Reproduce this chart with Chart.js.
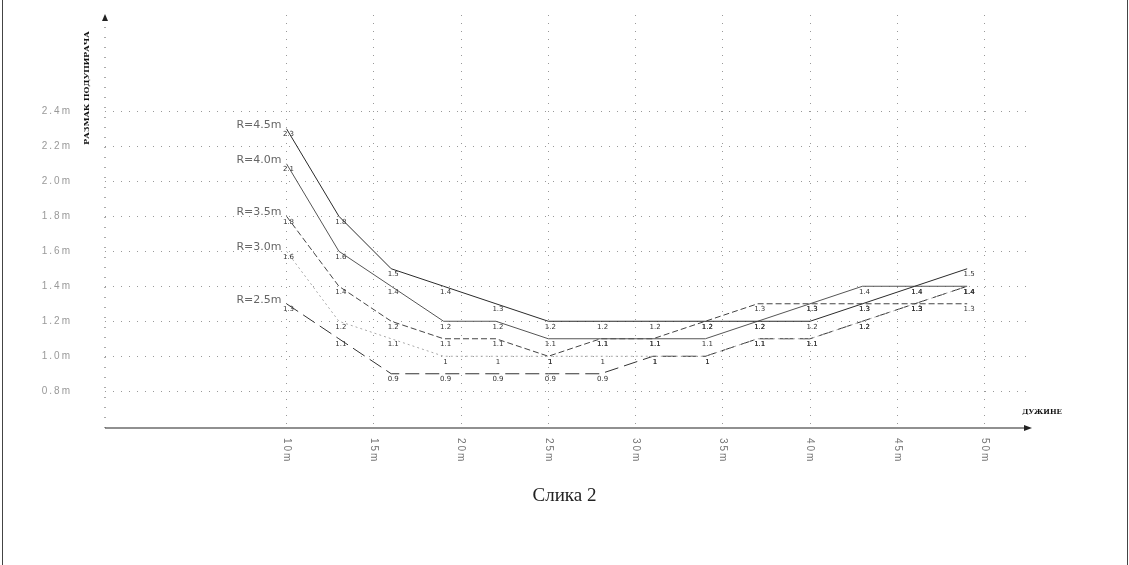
<!DOCTYPE html>
<html>
<head>
<meta charset="utf-8">
<title>Слика 2</title>
<script src="https://cdn.jsdelivr.net/npm/chart.js@4.4.1/dist/chart.umd.min.js"></script>
<style>
    html, body { margin: 0; padding: 0; background: #fff; }
    .page {
        position: relative;
        width: 1129px;
        height: 565px;
        overflow: hidden;
    }
    .page::before, .page::after {
        content: '';
        position: absolute;
        top: 0;
        bottom: 0;
        width: 1px;
        background: #444;
    }
    .page::before { left: 2px; }
    .page::after { right: 1px; }
    #chart { position: absolute; left: 0; top: 0; }
    .caption {
        position: absolute;
        left: 0;
        top: 484px;
        width: 1129px;
        text-align: center;
        font-family: "Liberation Serif", serif;
        font-size: 19px;
        color: #222;
    }
</style>
</head>
<body>
<div class="page">
    <canvas id="chart" width="1129" height="565"></canvas>
    <div class="caption">Слика 2</div>
</div>
<script>
'use strict';

// lengths along the x axis (m) and the values
const lengths = [10, 13, 16, 19, 22, 25, 28, 31, 34, 37, 40, 43, 46, 49];
const xTicks = [10, 15, 20, 25, 30, 35, 40, 45, 50];
const yTicks = [0.8, 1.0, 1.2, 1.4, 1.6, 1.8, 2.0, 2.2, 2.4];
const seriesNames = ['R=4.5m', 'R=4.0m', 'R=3.5m', 'R=3.0m', 'R=2.5m'];

const r45 = [2.3, 1.8, 1.5, 1.4, 1.3, 1.2, 1.2, 1.2, 1.2, 1.2, 1.2, 1.3, 1.4, 1.5];
const r40 = [2.1, 1.6, 1.4, 1.2, 1.2, 1.1, 1.1, 1.1, 1.1, 1.2, 1.3, 1.4, 1.4, 1.4];
const r35 = [1.8, 1.4, 1.2, 1.1, 1.1, 1.0, 1.1, 1.1, 1.2, 1.3, 1.3, 1.3, 1.3, 1.3];
const r30 = [1.6, 1.2, 1.1, 1.0, 1.0, 1.0, 1.0, 1.0, 1.0, 1.1, 1.1, 1.2, 1.3, 1.4];
const r25 = [1.3, 1.1, 0.9, 0.9, 0.9, 0.9, 0.9, 1.0, 1.0, 1.1, 1.1, 1.2, 1.3, 1.4];

const xTitle = 'ДУЖИНЕ';
const yTitle = 'РАЗМАК ПОДУПИРАЧА';

function pts(values) {
    return lengths.map((x, i) => ({ x: x, y: values[i] }));
}

function fmt(v) {
    return Number.isInteger(v) ? String(v) : v.toFixed(1);
}

// labels, axes with arrows, titles — all placed from the chart's scales
const decorations = {
    id: 'decorations',
    afterDatasetsDraw(chart) {
        const ctx = chart.ctx;
        const area = chart.chartArea;
        const xs = chart.scales.x;
        const ys = chart.scales.y;
        ctx.save();

        // value labels under each point
        ctx.font = '7px "DejaVu Sans"';
        ctx.fillStyle = '#333';
        ctx.textAlign = 'center';
        ctx.textBaseline = 'top';
        chart.data.datasets.forEach((ds, i) => {
            const meta = chart.getDatasetMeta(i);
            meta.data.forEach((pt, j) => {
                ctx.fillText(fmt(ds.data[j].y), pt.x + 2, pt.y + 2);
            });
        });

        // series names left of the first point
        ctx.font = '11px "DejaVu Sans"';
        ctx.fillStyle = '#666';
        ctx.textAlign = 'right';
        ctx.textBaseline = 'middle';
        chart.data.datasets.forEach((ds, i) => {
            const first = chart.getDatasetMeta(i).data[0];
            ctx.fillText(seriesNames[i], first.x - 5, first.y - 4);
        });

        // y tick labels, spaced out like the scan
        ctx.font = '10px "Liberation Sans"';
        ctx.fillStyle = '#999';
        ctx.letterSpacing = '2px';
        yTicks.forEach(v => {
            ctx.fillText(v.toFixed(1) + 'm', area.left - 33, ys.getPixelForValue(v));
        });

        // x axis: solid line with arrow
        ctx.strokeStyle = '#222';
        ctx.fillStyle = '#222';
        ctx.lineWidth = 1.2;
        ctx.beginPath();
        ctx.moveTo(area.left, area.bottom);
        ctx.lineTo(area.right - 4, area.bottom);
        ctx.stroke();
        ctx.beginPath();
        ctx.moveTo(area.right + 2, area.bottom);
        ctx.lineTo(area.right - 6, area.bottom - 3);
        ctx.lineTo(area.right - 6, area.bottom + 3);
        ctx.closePath();
        ctx.fill();

        // y axis: dotted line with arrow
        ctx.lineWidth = 1;
        ctx.strokeStyle = '#555';
        ctx.setLineDash([1, 9]);
        ctx.beginPath();
        ctx.moveTo(area.left, area.bottom);
        ctx.lineTo(area.left, area.top + 6);
        ctx.stroke();
        ctx.setLineDash([]);
        ctx.beginPath();
        ctx.moveTo(area.left, area.top - 1);
        ctx.lineTo(area.left - 3, area.top + 6);
        ctx.lineTo(area.left + 3, area.top + 6);
        ctx.closePath();
        ctx.fill();

        // x tick labels, turned to read downwards
        ctx.fillStyle = '#777';
        ctx.textAlign = 'left';
        xTicks.forEach(v => {
            ctx.save();
            ctx.translate(xs.getPixelForValue(v), area.bottom + 10);
            ctx.rotate(Math.PI / 2);
            ctx.fillText(v + 'm', 0, 0);
            ctx.restore();
        });
        ctx.letterSpacing = '0px';

        // axis titles
        ctx.font = 'bold 7px "DejaVu Serif"';
        ctx.fillStyle = '#111';
        ctx.textAlign = 'center';
        ctx.fillText(xTitle, area.right + 12, area.bottom - 16);

        ctx.save();
        ctx.font = 'bold 8px "DejaVu Serif"';
        ctx.translate(area.left - 18, area.top + 73);
        ctx.rotate(-Math.PI / 2);
        ctx.fillText(yTitle, 0, 0);
        ctx.restore();

        ctx.restore();
    }
};

const lineStyles = [
    { color: '#2a2a2a', dash: [] },
    { color: '#555', dash: [] },
    { color: '#444', dash: [6, 3] },
    { color: '#aaa', dash: [2, 3] },
    { color: '#333', dash: [14, 6] }
];

const allSeries = [r45, r40, r35, r30, r25];

const ctx = document.getElementById('chart').getContext('2d');
const chart = new Chart(ctx, {
    type: 'line',
    data: {
        datasets: allSeries.map((vals, i) => ({
            label: seriesNames[i],
            data: pts(vals),
            borderColor: lineStyles[i].color,
            borderDash: lineStyles[i].dash,
            borderWidth: 1,
            pointRadius: 0,
            fill: false,
            tension: 0
        }))
    },
    options: {
        responsive: false,
        animation: false,
        layout: { autoPadding: false, padding: { top: 15, right: 99, bottom: 0, left: 0 } },
        plugins: {
            legend: { display: false },
            title: { display: false },
            tooltip: { enabled: false }
        },
        scales: {
            x: {
                type: 'linear',
                min: -0.4,
                max: 52.6,
                afterBuildTicks: scale => { scale.ticks = xTicks.map(v => ({ value: v })); },
                afterFit: scale => { scale.height = 137; },
                ticks: { display: false },
                grid: { color: '#999', drawTicks: false },
                border: { display: false, dash: [1, 7] }
            },
            y: {
                min: 0.59,
                max: 2.95,
                afterBuildTicks: scale => { scale.ticks = yTicks.map(v => ({ value: v })); },
                afterFit: scale => { scale.width = 105; },
                ticks: { display: false },
                grid: { color: '#999', drawTicks: false },
                border: { display: false, dash: [1, 7] }
            }
        }
    },
    plugins: [decorations]
});
</script>
</body>
</html>
